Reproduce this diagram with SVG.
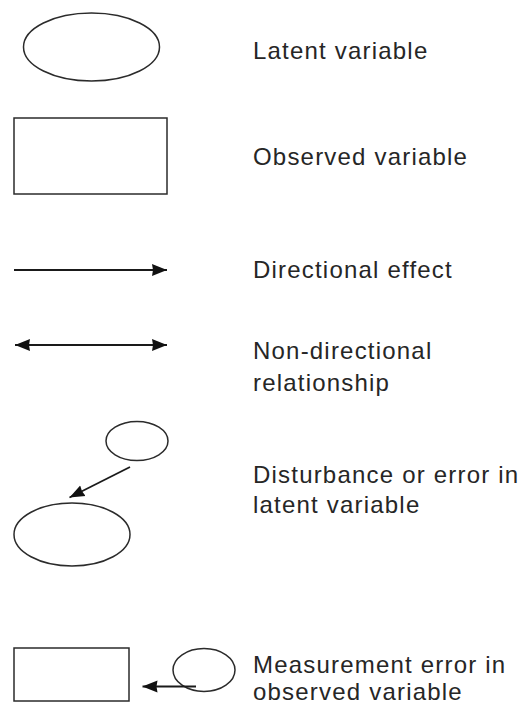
<svg xmlns="http://www.w3.org/2000/svg" width="522" height="704" viewBox="0 0 522 704">
<style>
.shape{fill:none;stroke:#2b2b2b;stroke-width:1.5}
.line{fill:none;stroke:#1a1a1a;stroke-width:1.8}
.lbl{font-family:"Liberation Sans",Arial,sans-serif;font-size:24px;letter-spacing:1.2px;fill:#262626}
</style>
<defs>
<marker id="ah" viewBox="0 0 15 13" refX="15" refY="6.5" markerWidth="15" markerHeight="13" markerUnits="userSpaceOnUse" orient="auto-start-reverse">
<path d="M0,0.5 L15,6.5 L0,12.5 L1,6.5 Z" fill="#111"/>
</marker>
</defs>
<rect width="522" height="704" fill="#ffffff"/>
<g id="latent">
<ellipse class="shape" cx="91.5" cy="47" rx="68" ry="34"/>
<text class="lbl" x="253" y="59">Latent variable</text>
</g>
<g id="observed">
<rect class="shape" x="14" y="118" width="153" height="76"/>
<text class="lbl" x="253" y="165">Observed variable</text>
</g>
<g id="directional">
<text class="lbl" x="253" y="278">Directional effect</text>
</g>
<g id="nondirectional">
<text class="lbl" x="253" y="359">Non-directional</text>
<text class="lbl" x="253" y="391">relationship</text>
</g>
<g id="disturbance">
<ellipse class="shape" cx="137" cy="441" rx="31" ry="19.5"/>
<ellipse class="shape" cx="72" cy="534.5" rx="58" ry="31.5"/>
<text class="lbl" x="253" y="483">Disturbance or error in</text>
<text class="lbl" x="253" y="513">latent variable</text>
</g>
<g id="measurement">
<rect class="shape" x="14" y="648" width="115" height="53"/>
<ellipse class="shape" cx="204" cy="670" rx="31" ry="21.5"/>
<text class="lbl" x="253" y="673">Measurement error in</text>
<text class="lbl" x="253" y="700">observed variable</text>
</g>
<g id="connectors">
<line class="line" x1="14" y1="270" x2="167" y2="270" marker-end="url(#ah)"/>
<line class="line" x1="15" y1="345" x2="167" y2="345" marker-start="url(#ah)" marker-end="url(#ah)"/>
<line class="line" x1="130" y1="467" x2="69.5" y2="497.5" marker-end="url(#ah)"/>
<line class="line" x1="196" y1="686.5" x2="142.5" y2="686.5" marker-end="url(#ah)"/>
</g>
</svg>
